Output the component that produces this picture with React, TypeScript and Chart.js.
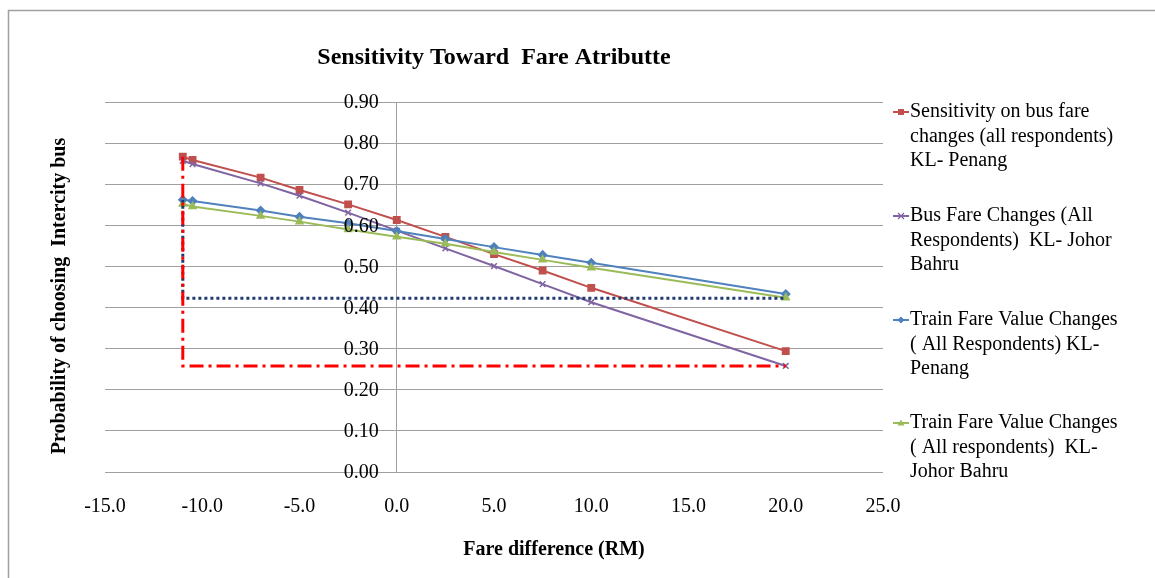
import React, { useEffect, useRef } from "react";
import { Chart, registerables } from "chart.js";

Chart.register(...registerables);

const fareDiff = [-11, -10.5, -7, -5, -2.5, 0, 2.5, 5, 7.5, 10, 20];
const busPenang = [0.767, 0.759, 0.716, 0.686, 0.651, 0.613, 0.572, 0.53, 0.49, 0.448, 0.294];
const busJohor = [0.757, 0.749, 0.702, 0.672, 0.631, 0.587, 0.544, 0.501, 0.457, 0.413, 0.258];
const trainPenang = [0.662, 0.659, 0.636, 0.621, 0.605, 0.586, 0.567, 0.547, 0.528, 0.509, 0.433];
const trainJohor = [0.652, 0.646, 0.623, 0.609, 0.59, 0.572, 0.555, 0.535, 0.516, 0.497, 0.424];

const redGuideX = [-11, -11, 20];
const redGuideY = [0.767, 0.258, 0.258];
const blueGuideX = [-11, -11, 20];
const blueGuideY = [0.662, 0.4226, 0.4226];

const seriesLabels = [
  ["Sensitivity on bus fare", "changes (all respondents)", "KL- Penang"],
  ["Bus Fare Changes (All", "Respondents)  KL- Johor", "Bahru"],
  ["Train Fare Value Changes", "( All Respondents) KL-", "Penang"],
  ["Train Fare Value Changes", "( All respondents)  KL-", "Johor Bahru"],
];

const chartTitle = "Sensitivity Toward  Fare Atributte";
const xTitle = "Fare difference (RM)";
const yTitle = "Probability of choosing  Intercity bus";

const colors = ["#C0504D", "#8064A2", "#4F81BD", "#9BBB59"];
const styles = ["rect", "crossRot", "rectRot", "triangle"];
const radii = [4.5, 4, 4, 4];

const toPts = (xs: number[], ys: number[]) => xs.map((x, i) => ({ x, y: ys[i] }));

const SERIF = "'Liberation Serif', 'Times New Roman', serif";

function drawMarker(ctx: CanvasRenderingContext2D, style: string, x: number, y: number, color: string) {
  ctx.save();
  ctx.fillStyle = color;
  ctx.strokeStyle = color;
  ctx.lineWidth = 1.3;
  ctx.beginPath();
  if (style === "rect") {
    ctx.rect(x - 3, y - 3, 6, 6);
    ctx.fill();
  } else if (style === "rectRot") {
    ctx.moveTo(x, y - 3.5);
    ctx.lineTo(x + 3.5, y);
    ctx.lineTo(x, y + 3.5);
    ctx.lineTo(x - 3.5, y);
    ctx.closePath();
    ctx.fill();
  } else if (style === "triangle") {
    ctx.moveTo(x, y - 3.5);
    ctx.lineTo(x + 3.5, y + 2.5);
    ctx.lineTo(x - 3.5, y + 2.5);
    ctx.closePath();
    ctx.fill();
  } else {
    ctx.moveTo(x - 3, y - 3);
    ctx.lineTo(x + 3, y + 3);
    ctx.moveTo(x + 3, y - 3);
    ctx.lineTo(x - 3, y + 3);
    ctx.stroke();
  }
  ctx.restore();
}

const decorPlugin = {
  id: "decor",
  afterDraw(chart: any) {
    const ctx = chart.ctx;
    const area = chart.chartArea;
    const xs = chart.scales.x;
    const ys = chart.scales.y;
    ctx.save();
    // outer frame
    ctx.strokeStyle = "#a0a0a0";
    ctx.lineWidth = 1.5;
    ctx.beginPath();
    ctx.moveTo(8.5, 1200);
    ctx.lineTo(8.5, 10.5);
    ctx.lineTo(1300, 10.5);
    ctx.stroke();

    // y tick labels beside the axis at x = 0
    const axisX = xs.getPixelForValue(0);
    ctx.fillStyle = "#000";
    ctx.font = `20px ${SERIF}`;
    ctx.textAlign = "right";
    ctx.textBaseline = "middle";
    ys.ticks.forEach((t: any) => {
      ctx.fillText(Number(t.value).toFixed(2), axisX - 18, ys.getPixelForValue(t.value) + 1);
    });

    // title
    ctx.font = `bold 24px ${SERIF}`;
    ctx.textAlign = "center";
    ctx.fillText(chartTitle, (area.left + area.right) / 2, 58);
    // x title
    ctx.font = `bold 20px ${SERIF}`;
    ctx.fillText(xTitle, 554, 550);
    // y title
    ctx.save();
    ctx.translate(60, 296);
    ctx.rotate(-Math.PI / 2);
    ctx.fillText(yTitle, 0, 0);
    ctx.restore();

    // legend
    const startY = [112, 216, 320, 423];
    ctx.font = `20px ${SERIF}`;
    ctx.textAlign = "left";
    for (let i = 0; i < seriesLabels.length; i++) {
      const y0 = startY[i];
      ctx.strokeStyle = colors[i];
      ctx.lineWidth = 2;
      ctx.beginPath();
      ctx.moveTo(893, y0);
      ctx.lineTo(909, y0);
      ctx.stroke();
      drawMarker(ctx, styles[i], 901, y0, colors[i]);
      ctx.fillStyle = "#000";
      seriesLabels[i].forEach((line, j) => {
        ctx.fillText(line, 910, y0 + j * 24.5);
      });
    }
    ctx.restore();
  },
};

export default function App() {
  const ref = useRef<HTMLCanvasElement | null>(null);

  useEffect(() => {
    document.body.style.margin = "0";
    const datasets: any[] = [
      { data: toPts(fareDiff, busPenang), order: 4 },
      { data: toPts(fareDiff, busJohor), order: 3 },
      { data: toPts(fareDiff, trainPenang), order: 2 },
      { data: toPts(fareDiff, trainJohor), order: 1 },
    ].map((d, i) => ({
      ...d,
      label: seriesLabels[i].join(" "),
      borderColor: colors[i],
      backgroundColor: colors[i],
      pointStyle: styles[i],
      pointRadius: radii[i],
      pointBorderWidth: 1.5,
      borderWidth: 2,
      showLine: true,
      tension: 0,
    }));
    datasets.push({
      label: "guide-blue",
      data: toPts(blueGuideX, blueGuideY),
      borderColor: "#1F3A6E",
      borderWidth: 3,
      borderDash: [3, 3],
      pointRadius: 0,
      showLine: true,
      order: 0,
    });
    datasets.push({
      label: "guide-red",
      data: toPts(redGuideX, redGuideY),
      borderColor: "#FF0000",
      borderWidth: 3,
      borderDash: [14, 5, 3, 5],
      pointRadius: 0,
      showLine: true,
      order: -1,
    });

    const chart = new Chart(ref.current!, {
      type: "scatter",
      data: { datasets },
      options: {
        animation: false,
        responsive: false,
        layout: { padding: { left: 105, right: 272, top: 102, bottom: 56 } },
        plugins: {
          legend: { display: false },
          tooltip: { enabled: false },
          title: { display: false },
        },
        scales: {
          x: {
            type: "linear",
            min: -15,
            max: 25,
            afterFit: (s: any) => {
              s.height = 50;
            },
            ticks: {
              stepSize: 5,
              padding: 23,
              color: "#000",
              font: { family: SERIF, size: 20 },
              callback: (v: any) => Number(v).toFixed(1),
            },
            grid: { display: false, drawTicks: false },
            border: { display: false },
          },
          y: {
            type: "linear",
            position: { x: 0 } as any,
            min: 0,
            max: 0.9,
            ticks: {
              stepSize: 0.1,
              display: false,
            },
            grid: { color: "#a0a0a0", lineWidth: 1, drawTicks: false },
            border: { display: true, color: "#a0a0a0", width: 1 },
          },
        },
      },
      plugins: [decorPlugin],
    });
    return () => chart.destroy();
  }, []);

  return (
    <div style={{ width: 1155, height: 578 }}>
      <canvas ref={ref} width={1155} height={578} style={{ display: "block" }} />
    </div>
  );
}
